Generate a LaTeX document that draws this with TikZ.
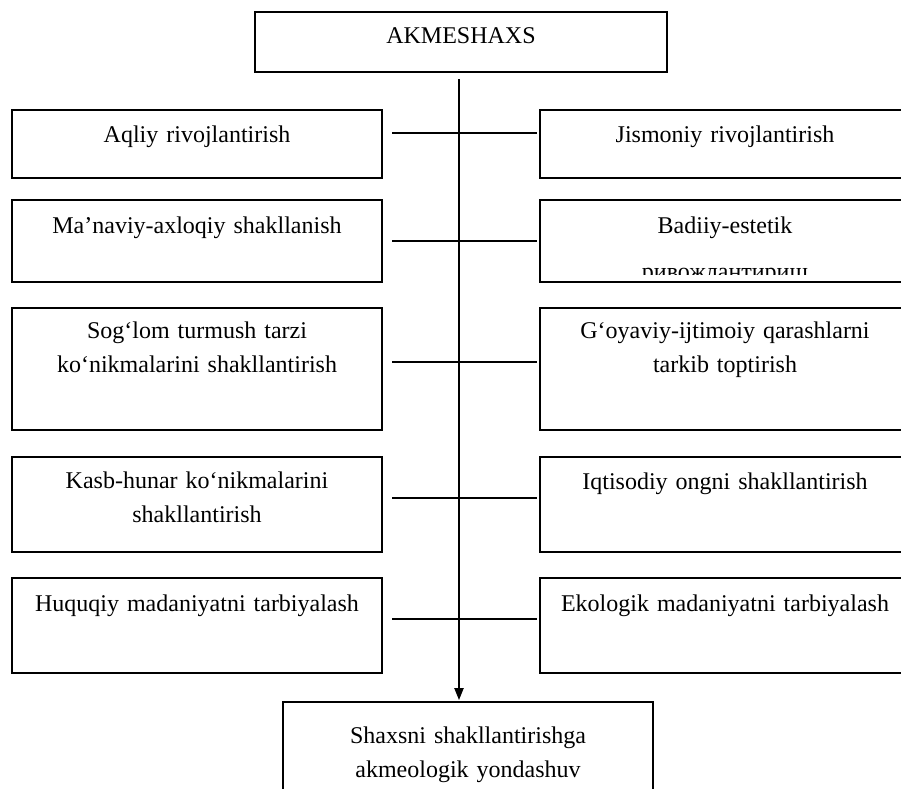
\documentclass[tikz,border=0pt]{standalone}
\usepackage{fontspec}
\setmainfont{Liberation Serif}
\usetikzlibrary{arrows.meta}
\begin{document}
\begin{tikzpicture}[x=0.75pt,y=-0.75pt,
  box/.style={draw,line width=1.2pt,anchor=north west,inner sep=0pt,outer sep=0pt,minimum width=277.5pt},
  lbl/.style={anchor=base,text width=270pt,align=center,inner sep=0pt,font=\fontsize{18}{25.5}\selectfont},
  link/.style={line width=1pt}]
\useasboundingbox (0,0) rectangle (901,789);
\clip (0,0) rectangle (901,789);
% boxes
\node[box,minimum width=309pt,minimum height=45pt] (top) at (255,12) {};
\node[box,minimum height=51pt] (L1) at (12,110) {};
\node[box,minimum height=51pt] (R1) at (540,110) {};
\node[box,minimum height=61.5pt] (L2) at (12,200) {};
\node[box,minimum height=61.5pt] (R2) at (540,200) {};
\node[box,minimum height=91.5pt] (L3) at (12,308) {};
\node[box,minimum height=91.5pt] (R3) at (540,308) {};
\node[box,minimum height=71.25pt] (L4) at (12,457) {};
\node[box,minimum height=71.25pt] (R4) at (540,457) {};
\node[box,minimum height=71.25pt] (L5) at (12,578) {};
\node[box,minimum height=71.25pt] (R5) at (540,578) {};
\node[box,minimum height=96pt] (bot) at (283,702) {};
% texts
\node[lbl] (ttop) at ([shift={(0,31)}]top.north) {AKMESHAXS};
\node[lbl] (tL1) at ([shift={(0,32)}]L1.north) {Aqliy rivojlantirish};
\node[lbl] (tR1) at ([shift={(0,32)}]R1.north) {Jismoniy rivojlantirish};
\node[lbl] (tL2) at ([shift={(0,33)}]L2.north) {Ma’naviy-axloqiy shakllanish};
\node[lbl] (tR2) at ([shift={(0,33)}]R2.north) {Badiiy-estetik};
\begin{scope}
  \clip (540,250) rectangle (910,274);
  \node[lbl] (tR2b) at ([shift={(0,79)}]R2.north) {ривожлантириш};
\end{scope}
\node[lbl] (tL3) at ([shift={(0,30)}]L3.north) {Sog‘lom turmush tarzi\\ko‘nikmalarini shakllantirish};
\node[lbl] (tR3) at ([shift={(0,30)}]R3.north) {G‘oyaviy-ijtimoiy qarashlarni\\tarkib toptirish};
\node[lbl] (tL4) at ([shift={(0,31)}]L4.north) {Kasb-hunar ko‘nikmalarini\\shakllantirish};
\node[lbl] (tR4) at ([shift={(0,32)}]R4.north) {Iqtisodiy ongni shakllantirish};
\node[lbl] (tL5) at ([shift={(0,33)}]L5.north) {Huquqiy madaniyatni tarbiyalash};
\node[lbl] (tR5) at ([shift={(0,33)}]R5.north) {Ekologik madaniyatni tarbiyalash};
\node[lbl] (tbot) at ([shift={(0,41)}]bot.north) {Shaxsni shakllantirishga\\akmeologik yondashuv};
% spine
\coordinate (spine) at (459,0);
\draw[link,-{Triangle[length=9pt,width=7pt]},shorten >=1.5pt] ([yshift=-5.25pt]top.south -| spine) -- (bot.north -| spine);
% horizontal links
\draw[link] ([shift={(10,-11)}]L1.east) -- ([shift={(-3,-11)}]R1.west);
\draw[link] ([shift={(10,0)}]L2.east) -- ([shift={(-3,0)}]R2.west);
\draw[link] ([shift={(10,-7)}]L3.east) -- ([shift={(-3,-7)}]R3.west);
\draw[link] ([shift={(10,-6.5)}]L4.east) -- ([shift={(-3,-6.5)}]R4.west);
\draw[link] ([shift={(10,-6.5)}]L5.east) -- ([shift={(-3,-6.5)}]R5.west);
\end{tikzpicture}
\end{document}
